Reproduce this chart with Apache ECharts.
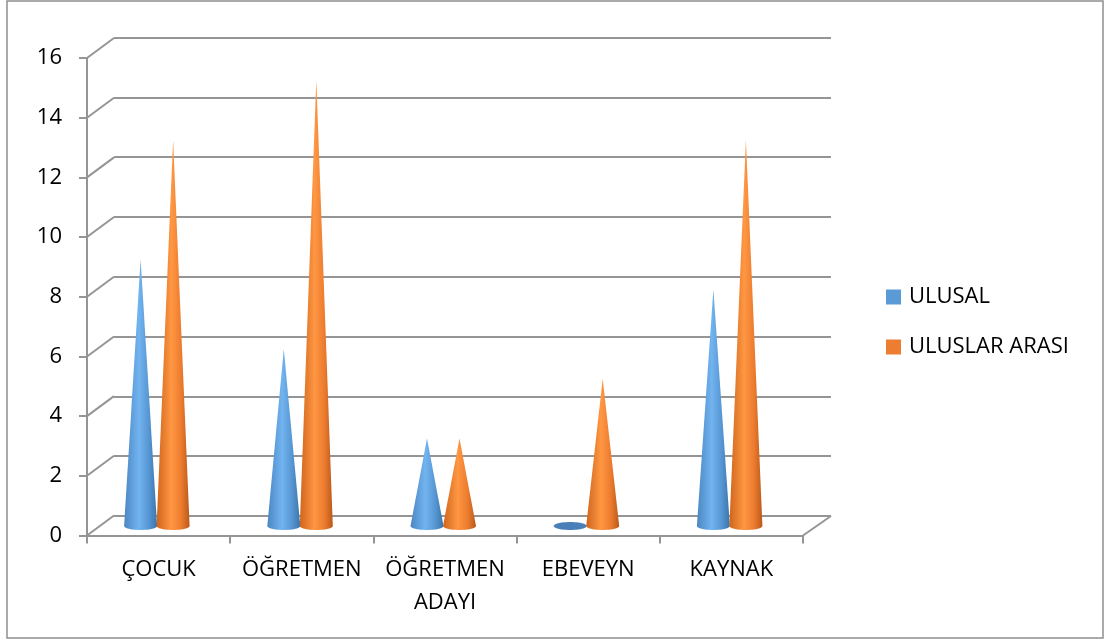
<!DOCTYPE html>
<html>
<head>
<meta charset="utf-8">
<title>ULUSAL / ULUSLAR ARASI</title>
<script src="https://cdn.jsdelivr.net/npm/echarts@6/dist/echarts.min.js"></script>
<style>
  html, body { margin: 0; padding: 0; background: #ffffff; }
  #chart { width: 1112px; height: 641px; }
</style>
</head>
<body>
<div id="chart"></div>
<script>
// Categories and values
const categories = ['ÇOCUK', 'ÖĞRETMEN', 'ÖĞRETMEN ADAYI', 'EBEVEYN', 'KAYNAK'];
const ulusal = [9, 6, 3, 0, 8];
const uluslarArasi = [13, 15, 3, 5, 13];
const yTicks = [0, 2, 4, 6, 8, 10, 12, 14, 16];

const FONT = "'Open Sans', 'Noto Sans', sans-serif";
const FONT_SIZE = 22;
const GRID_COLOR = '#959595';

// Depth of the 3D box (front plane -> back wall)
const DEPTH_DX = 27;
const DEPTH_DY = -20;
// Cone placement inside the box
const CONE_R = 16.5;
const CONE_RY = 4;
const BASE_DY = -9.5;
const TIP_DY = -7.5;

function coneGradient(kind) {
  if (kind === 'blue') {
    return new echarts.graphic.LinearGradient(0, 0, 1, 0, [
      { offset: 0, color: '#4b86c2' },
      { offset: 0.45, color: '#72b4f0' },
      { offset: 0.75, color: '#5696d2' },
      { offset: 1, color: '#3b74ab' }
    ]);
  }
  return new echarts.graphic.LinearGradient(0, 0, 1, 0, [
    { offset: 0, color: '#cf651c' },
    { offset: 0.45, color: '#ff9743' },
    { offset: 0.75, color: '#ec7b2e' },
    { offset: 1, color: '#b9591a' }
  ]);
}

function coneRenderer(offsetX, kind) {
  return function (params, api) {
    const cat = api.value(0);
    const v = api.value(1);
    const base = api.coord([cat, 0]);
    const top = api.coord([cat, v]);
    const cx = base[0] + offsetX;
    const by = base[1] + BASE_DY;
    const pts = [];
    if (v <= 0) {
      for (let i = 0; i <= 48; i++) {
        const t = (i / 48) * Math.PI * 2;
        pts.push([cx + CONE_R * Math.cos(t), by + CONE_RY * Math.sin(t)]);
      }
      return {
        type: 'polygon',
        shape: { points: pts },
        style: { fill: kind === 'blue' ? '#4a80b8' : '#d06a22' }
      };
    }
    const ty = top[1] + TIP_DY;
    pts.push([cx, ty]);
    for (let i = 0; i <= 24; i++) {
      const t = Math.PI - (i / 24) * Math.PI;
      pts.push([cx + CONE_R * Math.cos(t), by + CONE_RY * Math.sin(t)]);
    }
    return {
      type: 'polygon',
      shape: { points: pts },
      style: { fill: coneGradient(kind) }
    };
  };
}

const chart = echarts.init(document.getElementById('chart'), null, { renderer: 'canvas' });

const option = {
  animation: false,
  backgroundColor: '#ffffff',
  textStyle: { fontFamily: FONT },
  graphic: [{
    type: 'rect',
    shape: { x: 7, y: 1, width: 1096, height: 637 },
    style: { fill: 'none', stroke: '#8e8e8e', lineWidth: 1.5 },
    silent: true,
    z: -10
  }],
  legend: {
    orient: 'vertical',
    left: 886,
    top: 286,
    padding: 0,
    itemWidth: 15,
    itemHeight: 15,
    itemGap: 28,
    icon: 'rect',
    selectedMode: false,
    textStyle: { fontFamily: FONT, fontSize: FONT_SIZE, color: '#000', lineHeight: 22, padding: [0, 0, 0, 3] },
    data: ['ULUSAL', 'ULUSLAR ARASI']
  },
  grid: [
    // front plane: axes, ticks, labels
    { left: 87, top: 58, width: 716, height: 477.5 },
    // back wall: horizontal grid lines
    { left: 114, top: 37.5, width: 717, height: 478.5 }
  ],
  xAxis: [
    {
      gridIndex: 0,
      type: 'category',
      data: categories,
      axisLine: { show: true, lineStyle: { color: GRID_COLOR, width: 2 } },
      axisTick: { show: true, length: 8, lineStyle: { color: GRID_COLOR, width: 2 } },
      axisLabel: {
        interval: 0,
        margin: 18,
        fontFamily: FONT,
        fontSize: FONT_SIZE,
        lineHeight: 33,
        color: '#000',
        formatter: function (v) { return v.replace(' ', '\n'); }
      },
      splitLine: { show: false }
    },
    {
      gridIndex: 1,
      type: 'category',
      data: categories,
      show: false
    }
  ],
  yAxis: [
    {
      gridIndex: 0,
      type: 'value',
      min: 0,
      max: 16,
      interval: 2,
      axisLine: { show: true, lineStyle: { color: GRID_COLOR, width: 2 } },
      axisTick: { show: true, length: 8, lineStyle: { color: GRID_COLOR, width: 2 } },
      axisLabel: { margin: 25, fontFamily: FONT, fontSize: FONT_SIZE, color: '#000' },
      splitLine: { show: false }
    },
    {
      gridIndex: 1,
      type: 'value',
      min: 0,
      max: 16,
      interval: 2,
      axisLine: { show: false },
      axisTick: { show: false },
      axisLabel: { show: false },
      splitLine: { show: true, lineStyle: { color: GRID_COLOR, width: 2 } }
    }
  ],
  series: [
    {
      // diagonal edges joining the front axis to the back wall
      type: 'custom',
      xAxisIndex: 0,
      yAxisIndex: 0,
      silent: true,
      z: 1,
      data: yTicks.map(function (t) { return [0, t]; }),
      encode: { x: 0, y: 1 },
      renderItem: function (params, api) {
        const p = api.coord([0, api.value(1)]);
        const cs = params.coordSys;
        const children = [{
          type: 'line',
          shape: { x1: cs.x, y1: p[1], x2: cs.x + DEPTH_DX, y2: p[1] + DEPTH_DY },
          style: { stroke: GRID_COLOR, lineWidth: 2 }
        }];
        if (api.value(1) === 0) {
          children.push({
            type: 'line',
            shape: { x1: cs.x + cs.width, y1: p[1], x2: cs.x + cs.width + DEPTH_DX + 1, y2: p[1] + DEPTH_DY + 0.5 },
            style: { stroke: GRID_COLOR, lineWidth: 2 }
          });
        }
        return { type: 'group', children: children };
      }
    },
    {
      name: 'ULUSAL',
      type: 'custom',
      xAxisIndex: 0,
      yAxisIndex: 0,
      z: 3,
      itemStyle: { color: '#5B9BD5' },
      data: ulusal.map(function (v, i) { return [i, v]; }),
      encode: { x: 0, y: 1 },
      renderItem: coneRenderer(-18, 'blue')
    },
    {
      name: 'ULUSLAR ARASI',
      type: 'custom',
      xAxisIndex: 0,
      yAxisIndex: 0,
      z: 4,
      itemStyle: { color: '#ED7D31' },
      data: uluslarArasi.map(function (v, i) { return [i, v]; }),
      encode: { x: 0, y: 1 },
      renderItem: coneRenderer(14.5, 'orange')
    }
  ]
};

chart.setOption(option);
</script>
</body>
</html>
